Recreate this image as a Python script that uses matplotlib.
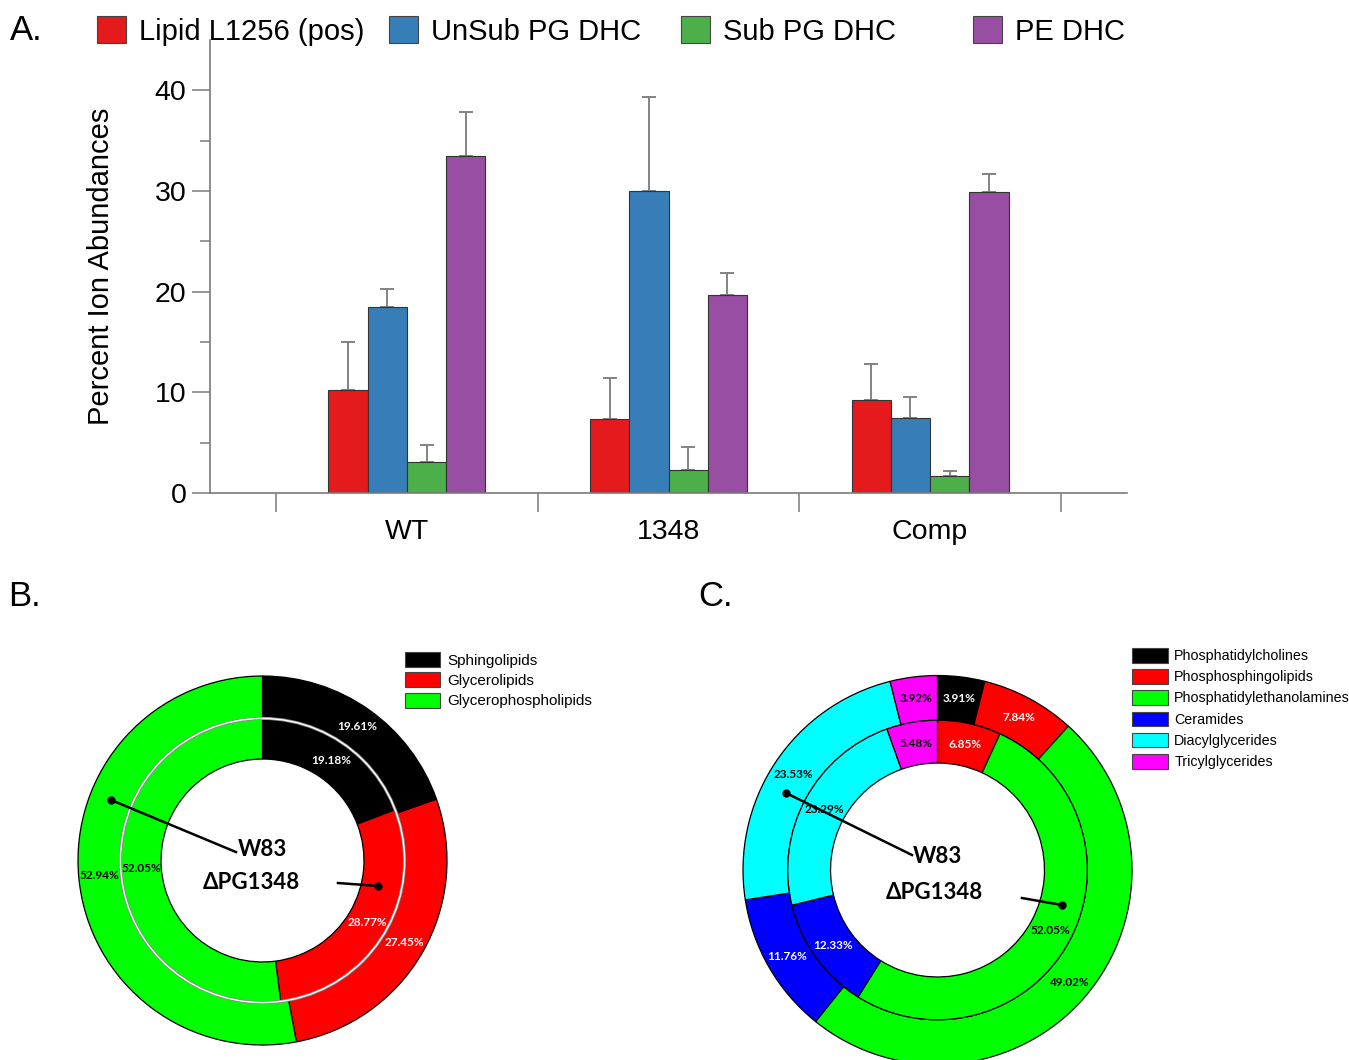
import numpy as np
import matplotlib
matplotlib.use("Agg")
import matplotlib.pyplot as plt
from matplotlib.patches import Patch, Circle
from matplotlib.colors import to_rgb

plt.rcParams['font.family'] = ['Liberation Sans', 'DejaVu Sans']

W, H = 1349, 1060

# ---- panel A data ----
strains = ["WT", "1348", "Comp"]
series = ["Lipid L1256 (pos)", "UnSub PG DHC", "Sub PG DHC", "PE DHC"]
series_colors = ["#E41A1C", "#377EB8", "#4DAF4A", "#984EA3"]
lipid_l1256 = [10.2, 7.4, 9.2]
unsub_pg_dhc = [18.5, 30.0, 7.5]
sub_pg_dhc = [3.1, 2.3, 1.7]
pe_dhc = [33.5, 19.7, 29.9]
lipid_l1256_err = [4.8, 4.0, 3.6]
unsub_pg_dhc_err = [1.8, 9.3, 2.0]
sub_pg_dhc_err = [1.7, 2.3, 0.5]
pe_dhc_err = [4.3, 2.2, 1.8]

# ---- panel B data (outer ring W83, inner ring dPG1348) ----
b_classes = ["Sphingolipids", "Glycerolipids", "Glycerophospholipids"]
b_colors = ["#000000", "#FF0000", "#00FF00"]
b_w83 = [19.61, 27.45, 52.94]
b_pg1348 = [19.18, 28.77, 52.05]

# ---- panel C data ----
c_classes = ["Phosphatidylcholines", "Phosphosphingolipids", "Phosphatidylethanolamines",
             "Ceramides", "Diacylglycerides", "Tricylglycerides"]
c_colors = ["#000000", "#FF0000", "#00FF00", "#0000FF", "#00FFFF", "#FF00FF"]
c_w83 = [3.91, 7.84, 49.02, 11.76, 23.53, 3.92]
c_pg1348 = [0.0, 6.85, 52.05, 12.33, 23.29, 5.48]


def fx(x):
    return x / W


def fy(y):
    return 1 - y / H


fig = plt.figure(figsize=(W / 100, H / 100), dpi=100)
fig.patch.set_facecolor('w')

# ================= panel A =================
ax = fig.add_axes([fx(210), fy(493), fx(1127) - fx(210), fy(40) - fy(493)])
means = [lipid_l1256, unsub_pg_dhc, sub_pg_dhc, pe_dhc]
errs = [lipid_l1256_err, unsub_pg_dhc_err, sub_pg_dhc_err, pe_dhc_err]
x = np.arange(len(strains))
bw = 0.15
for i, (m, e, c) in enumerate(zip(means, errs, series_colors)):
    pos = x + (i - 1.5) * bw
    ax.bar(pos, m, width=bw, color=c, edgecolor='#333333', linewidth=0.8, zorder=2)
    ax.errorbar(pos, m, yerr=[np.zeros(len(m)), e], fmt='none', ecolor='#7a7a7a',
                elinewidth=1.3, capsize=5, capthick=1.3, zorder=1)

ax.set_xlim(-0.753, 2.753)
ax.set_ylim(0, 45)
for s in ['top', 'right']:
    ax.spines[s].set_visible(False)
for s in ['left', 'bottom']:
    ax.spines[s].set_color('#7a7a7a')
    ax.spines[s].set_linewidth(1.2)

ax.set_yticks([0, 10, 20, 30, 40])
ax.set_yticks([5, 15, 25, 35], minor=True)
ax.tick_params(axis='y', which='major', length=13, width=1.1, color='#7a7a7a',
               labelsize=20.5, pad=4)
ax.tick_params(axis='y', which='minor', length=7, width=1.1, color='#7a7a7a')
ax.set_xticks([-0.5, 0.5, 1.5, 2.5])
ax.set_xticklabels([])
ax.set_xticks(x, minor=True)
ax.set_xticklabels(strains, minor=True)
ax.tick_params(axis='x', which='major', length=14, width=1.1, color='#7a7a7a')
ax.tick_params(axis='x', which='minor', length=0, labelsize=20.5, pad=19)
ax.set_ylabel("Percent Ion Abundances", fontsize=21)
ax.yaxis.set_label_coords(-0.104, 0.5)

fig.text(fx(10), fy(31), "A.", fontsize=25, ha='left', va='center')
for i, (name, c) in enumerate(zip(series, series_colors)):
    fig.legend(handles=[Patch(facecolor=c, edgecolor='#444444', linewidth=0.8, label=name)],
               loc='center left', bbox_to_anchor=(fx(97 + i * 292), fy(31)),
               frameon=False, borderaxespad=0, borderpad=0, fontsize=21,
               handlelength=1.0, handleheight=1.0, handletextpad=0.45)

# ================= donuts =================
label_font = ['Lato', 'DejaVu Sans']


def donut(ax, outer, inner, colors, sep_color):
    wo, _ = ax.pie(outer, radius=1.0, colors=colors, startangle=90, counterclock=False,
                   wedgeprops=dict(width=0.23, edgecolor='black', linewidth=0.9))
    wi, _ = ax.pie(inner, radius=0.77, colors=colors, startangle=90, counterclock=False,
                   wedgeprops=dict(width=0.22, edgecolor='black', linewidth=0.9))
    if sep_color is not None:
        ax.add_patch(Circle((0, 0), 0.77, fill=False, ec='#8a8a8a', lw=2.2, zorder=5))
        ax.add_patch(Circle((0, 0), 0.77, fill=False, ec=sep_color, lw=1.0, zorder=6))
    for wedges, vals, r in ((wo, outer, 0.89), (wi, inner, 0.66)):
        for w, v in zip(wedges, vals):
            if v <= 0:
                continue
            a = np.deg2rad((w.theta1 + w.theta2) / 2)
            rr, gg, bb = to_rgb(w.get_facecolor())
            tc = 'white' if 0.299 * rr + 0.587 * gg + 0.114 * bb < 0.4 else 'black'
            ax.text(r * np.cos(a), r * np.sin(a), f"{v:.2f}%", ha='center', va='center',
                    fontsize=8.5, fontweight='bold', color=tc, family=label_font, zorder=7)
    ax.set_xlim(-1.05, 1.05)
    ax.set_ylim(-1.05, 1.05)
    ax.set_aspect('equal')
    ax.axis('off')


def callouts(ax, w83_line, pg_line, w83_pos, pg_pos):
    for (x0, y0, x1, y1) in (w83_line, pg_line):
        ax.plot([x0, x1], [y0, y1], color='black', lw=1.8, zorder=8)
        ax.plot([x1], [y1], 'o', color='black', ms=5, zorder=8)
    ax.text(*w83_pos, "W83", ha='center', va='center', fontsize=16, fontweight='bold',
            family=label_font, zorder=9)
    ax.text(*pg_pos, "\u0394PG1348", ha='center', va='center', fontsize=16,
            fontweight='bold', family=label_font, zorder=9)


# panel B
rb = 184.5
axb = fig.add_axes([fx(262.5 - 1.05 * rb), fy(860.5 + 1.05 * rb),
                    2.1 * rb / W, 2.1 * rb / H])
donut(axb, b_w83, b_pg1348, b_colors, 'white')
callouts(axb, (-0.144, 0.046, -0.821, 0.328), (0.409, -0.122, 0.626, -0.138),
         (0.0, 0.062), (-0.062, -0.117))
fig.text(fx(8), fy(597), "B.", fontsize=25, ha='left', va='center')
fig.legend(handles=[Patch(facecolor=c, edgecolor='#444444', linewidth=0.8, label=n)
                    for n, c in zip(b_classes, b_colors)],
           loc='upper left', bbox_to_anchor=(fx(405), fy(652)), frameon=False,
           borderaxespad=0, borderpad=0, fontsize=11, handlelength=2.3,
           handleheight=1.1, handletextpad=0.45, labelspacing=0.32)

# panel C
rc = 194.5
axc = fig.add_axes([fx(937.5 - 1.05 * rc), fy(870 + 1.05 * rc),
                    2.1 * rc / W, 2.1 * rc / H])
donut(axc, c_w83, c_pg1348, c_colors, None)
callouts(axc, (-0.131, 0.077, -0.779, 0.396), (0.434, -0.144, 0.64, -0.18),
         (0.0, 0.067), (-0.018, -0.118))
fig.text(fx(698), fy(597), "C.", fontsize=25, ha='left', va='center')
fig.legend(handles=[Patch(facecolor=c, edgecolor='#444444', linewidth=0.8, label=n)
                    for n, c in zip(c_classes, c_colors)],
           loc='upper left', bbox_to_anchor=(fx(1132), fy(648)), frameon=False,
           borderaxespad=0, borderpad=0, fontsize=10.3, handlelength=2.5,
           handleheight=1.2, handletextpad=0.45, labelspacing=0.42)

fig.savefig("out.png", dpi=100)
